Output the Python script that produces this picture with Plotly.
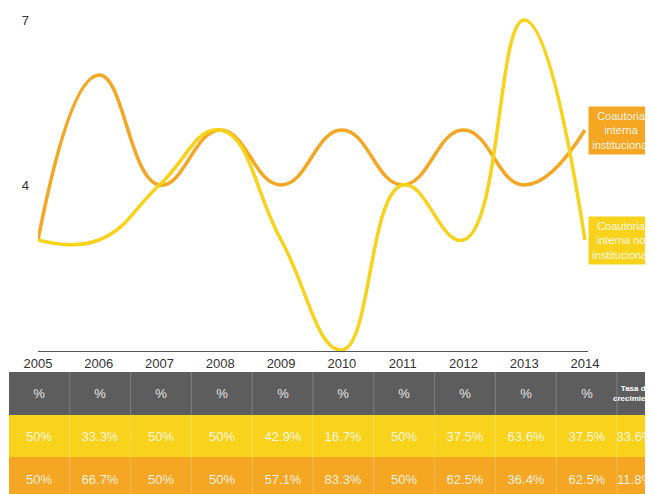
import plotly.graph_objects as go

# data
years = [2005, 2006, 2007, 2008, 2009, 2010, 2011, 2012, 2013, 2014]
inst = [3, 6, 4, 5, 4, 5, 4, 5, 4, 5]          # Coautoria interna institucional
no_inst = [3, 3, 4, 5, 3, 1, 4, 3, 7, 3]       # Coautoria interna no institucional
pct_no_inst = ["50%", "33.3%", "50%", "50%", "42.9%", "16.7%", "50%", "37.5%", "63.6%", "37.5%"]
pct_inst = ["50%", "66.7%", "50%", "50%", "57.1%", "83.3%", "50%", "62.5%", "36.4%", "62.5%"]
tasa_no_inst = "33.6%"
tasa_inst = "11.8%"

ORANGE = "#f5a623"
YELLOW = "#f9d21c"
GREY = "#5d5d5d"
FONT = "Liberation Sans, Arial, sans-serif"

W, H = 653, 494
OFF = 8  # page body margin, everything is placed 8px up/left to compensate


def py(p):
    # window pixel row -> paper y
    return (H - (p - OFF)) / H


fig = go.Figure()

fig.add_trace(go.Scatter(x=years, y=inst, mode="lines",
                         line=dict(color=ORANGE, width=3.5, shape="spline", smoothing=1.3),
                         hoverinfo="skip"))
fig.add_trace(go.Scatter(x=years, y=no_inst, mode="lines",
                         line=dict(color=YELLOW, width=3.5, shape="spline", smoothing=1.3),
                         hoverinfo="skip"))

# table below as a heatmap with text, last column ("Tasa de crecimiento") is cut by the edge
edges = [y - 0.5 for y in years] + [years[-1] + 0.5, years[-1] + 1.1]
z = [[0] * 11, [1] * 11, [2] * 11]
head = ["%"] * 10 + [""]
text = [head, pct_no_inst + [tasa_no_inst], pct_inst + [tasa_inst]]
fig.add_trace(go.Heatmap(x=edges, y=[0, 1, 2], z=z, text=text, texttemplate="%{text}",
                         textfont=dict(family=FONT, size=13, color="rgba(255,255,255,0.88)"),
                         colorscale=[[0, GREY], [0.5, YELLOW], [1, ORANGE]],
                         zmin=0, zmax=2, showscale=False, hoverinfo="skip",
                         xaxis="x2", yaxis="y2"))

for e in edges[1:-1]:
    fig.add_shape(type="line", xref="x2", yref="y2 domain", x0=e, x1=e,
                  y0=0, y1=1, line=dict(color="rgba(255,255,255,0.22)", width=1))

fig.add_annotation(x=(edges[-2] + edges[-1]) / 2, xref="x2", y=0, yref="y2",
                   text="<b>Tasa de<br>crecimiento</b>", showarrow=False,
                   font=dict(family=FONT, size=8, color="white"))

labels = ["Coautoria<br>interna<br>institucional", "Coautoria<br>interna no<br>institucional"]
for lab, vals, col in zip(labels, [inst, no_inst], [ORANGE, YELLOW]):
    fig.add_annotation(x=(588 - OFF) / W, xref="paper", y=vals[-1], yref="y", xanchor="left",
                       yanchor="middle", text=lab, showarrow=False, bgcolor=col,
                       width=58, borderpad=3,
                       font=dict(family=FONT, size=11, color="rgba(255,255,255,0.92)"))

px_per_year = 60.8
x2_left = 2004.5 - (9 - OFF) / px_per_year
row_px = 42.7
tbl_rows = (H + OFF - 372) / row_px

fig.update_layout(
    width=W, height=H, margin=dict(l=0, r=0, t=0, b=0),
    paper_bgcolor="white", plot_bgcolor="white", showlegend=False,
    font=dict(family=FONT, size=13, color="#333333"),
    xaxis=dict(domain=[(38 - OFF) / W, (588 - OFF) / W], range=[2005, 2014.05], tickvals=years,
               showline=True, linecolor="#555555", linewidth=1, showgrid=False,
               zeroline=False, ticks="", automargin=False,
               tickfont=dict(size=13, color="#333333")),
    yaxis=dict(domain=[py(351), 1], range=[0.982, 7.218], tickvals=[4, 7],
               showgrid=False, zeroline=False, showline=False, ticks="", automargin=False,
               ticklabelstandoff=8, tickfont=dict(size=13, color="#333333")),
    xaxis2=dict(domain=[0, 1], range=[x2_left, x2_left + W / px_per_year],
                visible=False, anchor="y2", automargin=False),
    yaxis2=dict(domain=[0, py(372)], range=[-0.5 + tbl_rows, -0.5],
                visible=False, anchor="x2", automargin=False),
)

fig.write_html("out.html")
